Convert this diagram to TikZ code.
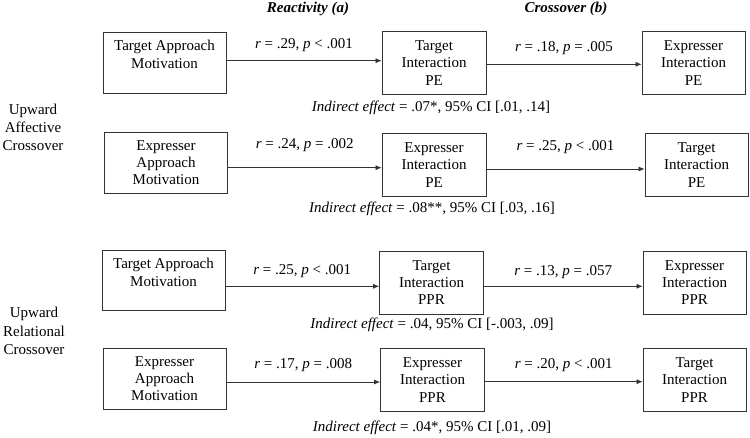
\documentclass[tikz,border=0pt]{standalone}
\usepackage{fontspec}
\setmainfont{Liberation Serif}
\usetikzlibrary{arrows.meta}
\tikzset{
  base/.style={font=\fontsize{15}{17.3}\selectfont, align=center, inner sep=0pt},
  box/.style={base, draw=black!80, line width=0.8pt},
  lbox/.style={box, minimum width=123pt, minimum height=61pt},
  mbox/.style={box, minimum width=104pt, minimum height=63pt},
  rbox/.style={box, minimum width=103pt, minimum height=63pt},
  toptext/.style={base, anchor=north, yshift=-8.5pt},
  arr/.style={draw=black!80, line width=0.7pt, -{Latex[length=6pt,width=5pt]}},
  elab/.style={base, midway},
  ind/.style={base},
  head/.style={base, font=\fontsize{15}{17}\selectfont\bfseries\itshape},
  side/.style={base, font=\fontsize{15}{18.3}\selectfont}
}
\begin{document}
\begin{tikzpicture}[x=1pt,y=-1pt]
\useasboundingbox (0,0) rectangle (750,437);
% headers
\node[head] (h1) at (308,9) {Reactivity (a)};
\node[head] (h2) at (566,9) {Crossover (b)};
% side labels
\node[side] (s1) at (33,127.5) {Upward\\Affective\\Crossover};
\node[side] (s2) at (34,331) {Upward\\Relational\\Crossover};
% row 1
\node[lbox, label={[toptext]north:Target Approach\\Motivation}] (L1) at (164.5,62.5) {};
\node[mbox] (M1) at (434,63) {Target\\Interaction\\PE};
\node[rbox] (R1) at (693.5,63) {Expresser\\Interaction\\PE};
\draw[arr] ([yshift=1.8pt]L1.east) -- ([yshift=1.8pt]L1.east -| M1.west) node[elab, yshift=15.7pt] {\textit{r} = .29, \textit{p} < .001};
\draw[arr] ([yshift=-1.3pt]M1.east) -- ([yshift=-1.3pt]M1.east -| R1.west) node[elab, yshift=16.3pt] {\textit{r} = .18, \textit{p} = .005};
\node[ind] (i1) at (431,108) {\textit{Indirect effect} = .07*, 95\% CI [.01, .14]};
% row 2
\node[lbox] (L2) at (166,162.5) {Expresser\\Approach\\Motivation};
\node[mbox] (M2) at (434,165) {Expresser\\Interaction\\PE};
\node[rbox] (R2) at (696.5,165) {Target\\Interaction\\PE};
\draw[arr] ([yshift=-5.2pt]L2.east) -- ([yshift=-5.2pt]L2.east -| M2.west) node[elab, yshift=22.7pt] {\textit{r} = .24, \textit{p} = .002};
\draw[arr] ([yshift=-4pt]M2.east) -- ([yshift=-4pt]M2.east -| R2.west) node[elab, yshift=22pt] {\textit{r} = .25, \textit{p} < .001};
\node[ind] (i2) at (432,209) {\textit{Indirect effect} = .08**, 95\% CI [.03, .16]};
% row 3
\node[lbox, minimum height=60pt, label={[toptext]north:Target Approach\\Motivation}] (L3) at (163.5,280) {};
\node[mbox] (M3) at (431.5,282.5) {Target\\Interaction\\PPR};
\node[rbox] (R3) at (694.5,282.5) {Expresser\\Interaction\\PPR};
\draw[arr] ([yshift=-6.3pt]L3.east) -- ([yshift=-6.3pt]L3.east -| M3.west) node[elab, yshift=15.6pt] {\textit{r} = .25, \textit{p} < .001};
\draw[arr] ([yshift=-3.8pt]M3.east) -- ([yshift=-3.8pt]M3.east -| R3.west) node[elab, yshift=14.3pt] {\textit{r} = .13, \textit{p} = .057};
\node[ind] (i3) at (432,325) {\textit{Indirect effect} = .04, 95\% CI [-.003, .09]};
% row 4
\node[lbox] (L4) at (164.5,378.5) {Expresser\\Approach\\Motivation};
\node[mbox] (M4) at (432.5,380) {Expresser\\Interaction\\PPR};
\node[rbox] (R4) at (694.5,380) {Target\\Interaction\\PPR};
\draw[arr] ([yshift=-3.5pt]L4.east) -- ([yshift=-3.5pt]L4.east -| M4.west) node[elab, yshift=17pt] {\textit{r} = .17, \textit{p} = .008};
\draw[arr] ([yshift=-1.7pt]M4.east) -- ([yshift=-1.7pt]M4.east -| R4.west) node[elab, yshift=16.7pt] {\textit{r} = .20, \textit{p} < .001};
\node[ind] (i4) at (432,428) {\textit{Indirect effect} = .04*, 95\% CI [.01, .09]};
\end{tikzpicture}
\end{document}
